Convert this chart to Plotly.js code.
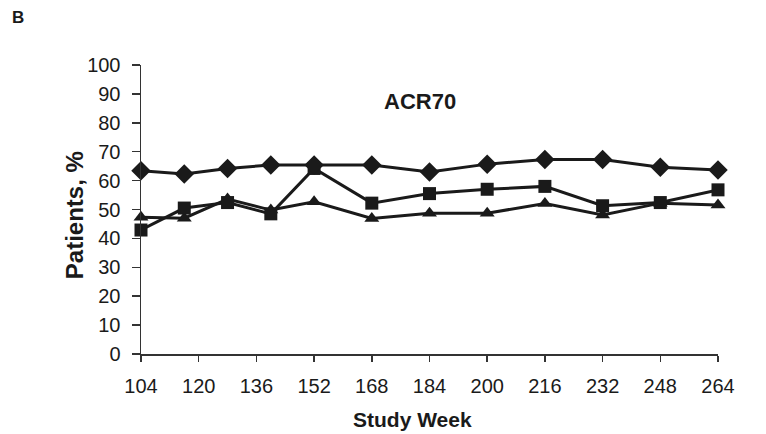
<!DOCTYPE html>
<html>
<head>
<meta charset="utf-8">
<script src="https://cdn.plot.ly/plotly-3.0.1.min.js"></script>
<style>
html,body{margin:0;padding:0;background:#fff;}
#chart{width:766px;height:434px;}
</style>
</head>
<body>
<div id="chart"></div>
<script>
const weeks = [104, 116, 128, 140, 152, 168, 184, 200, 216, 232, 248, 264];
const diamondSeries = [63.4, 62.3, 64.2, 65.4, 65.4, 65.4, 63.0, 65.7, 67.3, 67.3, 64.6, 63.7];
const squareSeries = [42.9, 50.5, 52.4, 48.5, 64.2, 52.2, 55.5, 57.0, 58.0, 51.3, 52.4, 56.8];
const triangleSeries = [47.3, 47.0, 53.6, 49.8, 52.7, 46.9, 48.7, 48.7, 52.1, 48.1, 52.2, 51.6];
const xTickVals = [104, 120, 136, 152, 168, 184, 200, 216, 232, 248, 264];
const yTickVals = [0, 10, 20, 30, 40, 50, 60, 70, 80, 90, 100];
const xTitle = 'Study Week';
const yTitle = 'Patients, %';
const panelLabel = 'ACR70';
const figLetter = 'B';

const fontFam = '"Liberation Sans", Arial, sans-serif';
const ink = '#1a1a1a';

function series(y, symbol, size) {
  return {
    x: weeks, y: y, type: 'scatter', mode: 'lines+markers',
    line: {color: ink, width: 3},
    marker: {symbol: symbol, size: size, color: ink},
    cliponaxis: false, showlegend: false, hoverinfo: 'skip'
  };
}

const data = [
  series(triangleSeries, 'triangle-up', 13),
  series(squareSeries, 'square', 13),
  series(diamondSeries, 'diamond', 15)
];

const layout = {
  width: 766, height: 434,
  margin: {l: 141, r: 48, t: 65, b: 80},
  paper_bgcolor: '#fff', plot_bgcolor: '#fff',
  font: {family: fontFam, color: ink, size: 20},
  xaxis: {
    range: [104, 264], tickvals: xTickVals, ticktext: xTickVals.map(String),
    showgrid: false, zeroline: false, showline: true, linecolor: '#333', linewidth: 1.5,
    ticks: 'outside', ticklen: 6, tickcolor: '#333', tickwidth: 1.5,
    tickfont: {size: 20, color: ink}, ticklabelstandoff: 7
  },
  yaxis: {
    range: [0, 100], tickvals: yTickVals,
    showgrid: false, zeroline: false, showline: true, linecolor: '#333', linewidth: 1.5,
    ticks: 'outside', ticklen: 8, tickcolor: '#333', tickwidth: 1.5,
    tickfont: {size: 20, color: ink}, ticklabelstandoff: 7
  },
  annotations: [
    {text: '<b>' + panelLabel + '</b>', x: 0.4835, y: 0.875, xref: 'paper', yref: 'paper',
     showarrow: false, xanchor: 'center', yanchor: 'middle', font: {size: 22, color: ink}},
    {text: '<b>' + xTitle + '</b>', x: 0.471, y: -0.225, xref: 'paper', yref: 'paper',
     showarrow: false, xanchor: 'center', yanchor: 'middle', font: {size: 21, color: ink}},
    {text: '<b>' + yTitle + '</b>', x: -0.114, y: 0.481, xref: 'paper', yref: 'paper',
     showarrow: false, xanchor: 'center', yanchor: 'middle', textangle: -90, font: {size: 24, color: ink}},
    {text: '<b>' + figLetter + '</b>', x: -0.213, y: 1.166, xref: 'paper', yref: 'paper',
     showarrow: false, xanchor: 'center', yanchor: 'middle', font: {size: 17, color: ink}}
  ]
};

Plotly.newPlot('chart', data, layout, {staticPlot: true, displayModeBar: false});
</script>
</body>
</html>
